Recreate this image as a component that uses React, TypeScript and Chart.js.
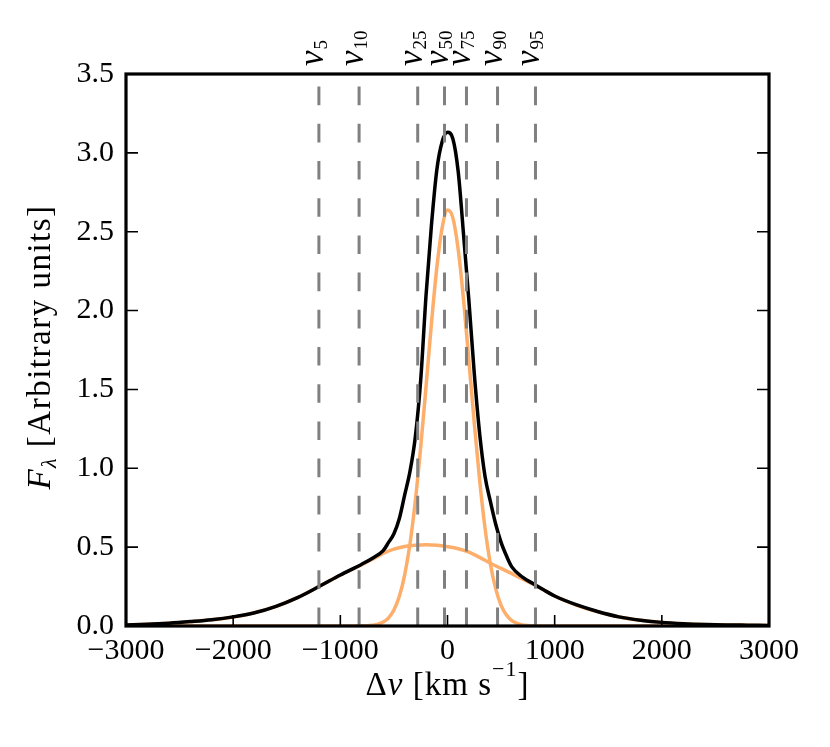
import React, { useEffect, useRef } from 'react';
import { Chart, registerables } from 'chart.js';

Chart.register(...registerables);

const SERIF = '"Liberation Serif", "Times New Roman", serif';

// Axis ranges and ticks
const X_MIN = -3000;
const X_MAX = 3000;
const X_STEP = 1000;
const Y_MIN = 0;
const Y_MAX = 3.5;
const Y_STEP = 0.5;

// Total profile (black)
const TOTAL_X = [-3000, -2800, -2600, -2400, -2200, -2000, -1800, -1600, -1400, -1200, -1000, -800, -700, -600, -550, -500, -450, -400, -350, -300, -250, -200, -150, -100, -50, 0, 50, 100, 150, 200, 250, 300, 350, 400, 450, 500, 550, 600, 700, 800, 900, 1000, 1200, 1400, 1600, 1800, 2000, 2200, 2400, 2600, 2800, 3000];
const TOTAL_Y = [0.007, 0.011, 0.018, 0.028, 0.04, 0.058, 0.084, 0.125, 0.18, 0.25, 0.323, 0.392, 0.43, 0.478, 0.53, 0.585, 0.68, 0.83, 0.98, 1.2, 1.56, 2.1, 2.54, 2.89, 3.07, 3.13, 3.09, 2.88, 2.48, 2.06, 1.6, 1.22, 0.95, 0.79, 0.645, 0.53, 0.445, 0.375, 0.31, 0.268, 0.228, 0.19, 0.135, 0.092, 0.058, 0.037, 0.023, 0.015, 0.01, 0.007, 0.005, 0.003];

// Narrow component (orange)
const NARROW_X = [-3000, -1000, -900, -800, -750, -700, -650, -600, -550, -500, -450, -400, -350, -300, -250, -200, -150, -100, -50, 0, 50, 100, 150, 200, 250, 300, 350, 400, 450, 500, 550, 600, 650, 700, 750, 800, 900, 1000, 3000];
const NARROW_Y = [0, 0, 0, 0.001, 0.002, 0.005, 0.011, 0.025, 0.052, 0.102, 0.187, 0.323, 0.522, 0.795, 1.134, 1.52, 1.917, 2.27, 2.524, 2.637, 2.588, 2.386, 2.067, 1.68, 1.285, 0.923, 0.622, 0.394, 0.235, 0.131, 0.069, 0.034, 0.016, 0.007, 0.003, 0.001, 0, 0, 0];

// Broad component (orange)
const BROAD_X = [-3000, -2800, -2600, -2400, -2200, -2000, -1800, -1600, -1400, -1200, -1000, -900, -800, -700, -600, -500, -400, -300, -200, -100, 0, 100, 200, 300, 400, 500, 600, 700, 800, 900, 1000, 1200, 1400, 1600, 1800, 2000, 2200, 2400, 2600, 2800, 3000];
const BROAD_Y = [0.007, 0.011, 0.017, 0.027, 0.039, 0.057, 0.084, 0.124, 0.18, 0.25, 0.322, 0.355, 0.388, 0.424, 0.46, 0.487, 0.504, 0.512, 0.515, 0.512, 0.503, 0.49, 0.468, 0.435, 0.398, 0.365, 0.332, 0.298, 0.265, 0.228, 0.19, 0.133, 0.09, 0.057, 0.036, 0.023, 0.015, 0.01, 0.007, 0.004, 0.003];

// Velocity percentiles (dashed lines)
const QUANTILE_LABELS = ['5', '10', '25', '50', '75', '90', '95'];
const QUANTILE_V = [-1200, -825, -278, -28, 177, 467, 821];

const BLACK = '#000000';
const ORANGE = '#FDAE6B';
const GREY = '#808080';

const zip = (xs: number[], ys: number[]) => xs.map((x, i) => ({ x, y: ys[i] }));

type Seg = { t: string; font: string; dy: number };

function drawSegments(ctx: CanvasRenderingContext2D, segs: Seg[], spacing: string) {
  let total = 0;
  const widths: number[] = [];
  (ctx as any).letterSpacing = spacing;
  segs.forEach((s) => {
    ctx.font = s.font;
    const w = ctx.measureText(s.t).width;
    widths.push(w);
    total += w;
  });
  let u = -total / 2;
  segs.forEach((s, i) => {
    ctx.font = s.font;
    ctx.fillText(s.t, u, s.dy);
    u += widths[i];
  });
  (ctx as any).letterSpacing = '0px';
}

const decorPlugin = {
  id: 'decor',
  afterDraw(chart: any) {
    const { ctx, chartArea: a, scales } = chart;
    const xs = scales.x;
    const ys = scales.y;
    ctx.save();
    ctx.strokeStyle = BLACK;
    ctx.fillStyle = BLACK;
    // inward ticks
    ctx.lineWidth = 1.6;
    ctx.beginPath();
    ys.ticks.forEach((t: any) => {
      const py = ys.getPixelForValue(t.value);
      ctx.moveTo(a.left, py);
      ctx.lineTo(a.left + 12, py);
      ctx.moveTo(a.right, py);
      ctx.lineTo(a.right - 12, py);
    });
    xs.ticks.forEach((t: any) => {
      const px = xs.getPixelForValue(t.value);
      ctx.moveTo(px, a.bottom);
      ctx.lineTo(px, a.bottom - 11);
    });
    ctx.stroke();
    // frame
    ctx.lineWidth = 3.2;
    ctx.strokeRect(a.left, a.top, a.right - a.left, a.bottom - a.top);

    // percentile labels (rotated)
    ctx.textAlign = 'left';
    ctx.textBaseline = 'alphabetic';
    QUANTILE_V.forEach((v, i) => {
      const px = xs.getPixelForValue(v);
      ctx.save();
      ctx.translate(px + 4, a.top - 8);
      ctx.rotate(-Math.PI / 2);
      ctx.font = `italic 35px ${SERIF}`;
      ctx.fillText('v', 0, 0);
      const w = ctx.measureText('v').width;
      ctx.font = `19px ${SERIF}`;
      ctx.fillText(QUANTILE_LABELS[i], w + 1, 4);
      ctx.restore();
    });

    // x-axis title
    ctx.save();
    ctx.translate((a.left + a.right) / 2, 695);
    drawSegments(
      ctx,
      [
        { t: 'Δ', font: `33px ${SERIF}`, dy: 0 },
        { t: 'v', font: `italic 33px ${SERIF}`, dy: 0 },
        { t: ' [km s', font: `33px ${SERIF}`, dy: 0 },
        { t: '−1', font: `22px ${SERIF}`, dy: -19 },
        { t: ']', font: `33px ${SERIF}`, dy: 0 },
      ],
      '1px'
    );
    ctx.restore();

    // y-axis title
    ctx.save();
    ctx.translate(50, (a.top + a.bottom) / 2 - 3);
    ctx.rotate(-Math.PI / 2);
    drawSegments(
      ctx,
      [
        { t: 'F', font: `italic 33px ${SERIF}`, dy: 0 },
        { t: 'λ', font: `italic 22px ${SERIF}`, dy: 6 },
        { t: ' [Arbitrary units]', font: `33px ${SERIF}`, dy: 0 },
      ],
      '1.5px'
    );
    ctx.restore();
    ctx.restore();
  },
};

export default function App() {
  const ref = useRef<HTMLCanvasElement | null>(null);

  useEffect(() => {
    if (!ref.current) return;
    const vlines = QUANTILE_V.map((v) => ({
      data: [
        { x: v, y: Y_MIN },
        { x: v, y: Y_MAX },
      ],
      borderColor: GREY,
      borderWidth: 3,
      borderDash: [18.6, 18.6],
      borderCapStyle: 'butt' as const,
      pointRadius: 0,
      fill: false,
      tension: 0,
    }));
    const chart = new Chart(ref.current, {
      type: 'line',
      data: {
        datasets: [
          ...vlines,
          {
            data: zip(TOTAL_X, TOTAL_Y),
            borderColor: BLACK,
            borderWidth: 3.5,
            pointRadius: 0,
            fill: false,
            cubicInterpolationMode: 'monotone',
          },
          {
            data: zip(NARROW_X, NARROW_Y),
            borderColor: ORANGE,
            borderWidth: 3.5,
            pointRadius: 0,
            fill: false,
            cubicInterpolationMode: 'monotone',
          },
          {
            data: zip(BROAD_X, BROAD_Y),
            borderColor: ORANGE,
            borderWidth: 3.5,
            pointRadius: 0,
            fill: false,
            cubicInterpolationMode: 'monotone',
          },
        ] as any,
      },
      options: {
        responsive: false,
        animation: false,
        devicePixelRatio: 1,
        layout: { padding: { top: 74, right: 61, left: 0, bottom: 0 } },
        plugins: { legend: { display: false }, tooltip: { enabled: false } },
        scales: {
          x: {
            type: 'linear',
            min: X_MIN,
            max: X_MAX,
            grid: { display: false, drawTicks: false },
            border: { display: false },
            afterFit: (s: any) => {
              s.height = 121;
            },
            ticks: {
              stepSize: X_STEP,
              autoSkip: false,
              maxRotation: 0,
              padding: 7,
              color: BLACK,
              font: { family: SERIF, size: 30 },
              callback: (v: any) => (Number(v) < 0 ? '−' + Math.abs(Number(v)) : String(v)),
            },
          },
          y: {
            type: 'linear',
            min: Y_MIN,
            max: Y_MAX,
            grid: { display: false, drawTicks: false },
            border: { display: false },
            afterFit: (s: any) => {
              s.width = 126;
            },
            ticks: {
              stepSize: Y_STEP,
              padding: 12,
              color: BLACK,
              font: { family: SERIF, size: 30 },
              callback: (v: any) => Number(v).toFixed(1),
            },
          },
        },
      } as any,
      plugins: [decorPlugin],
    });
    return () => chart.destroy();
  }, []);

  return (
    <div style={{ position: 'fixed', left: 0, top: 0, width: 830, height: 747, background: '#fff' }}>
      <canvas ref={ref} width={830} height={747} style={{ display: 'block', width: '830px', height: '747px' }} />
    </div>
  );
}
